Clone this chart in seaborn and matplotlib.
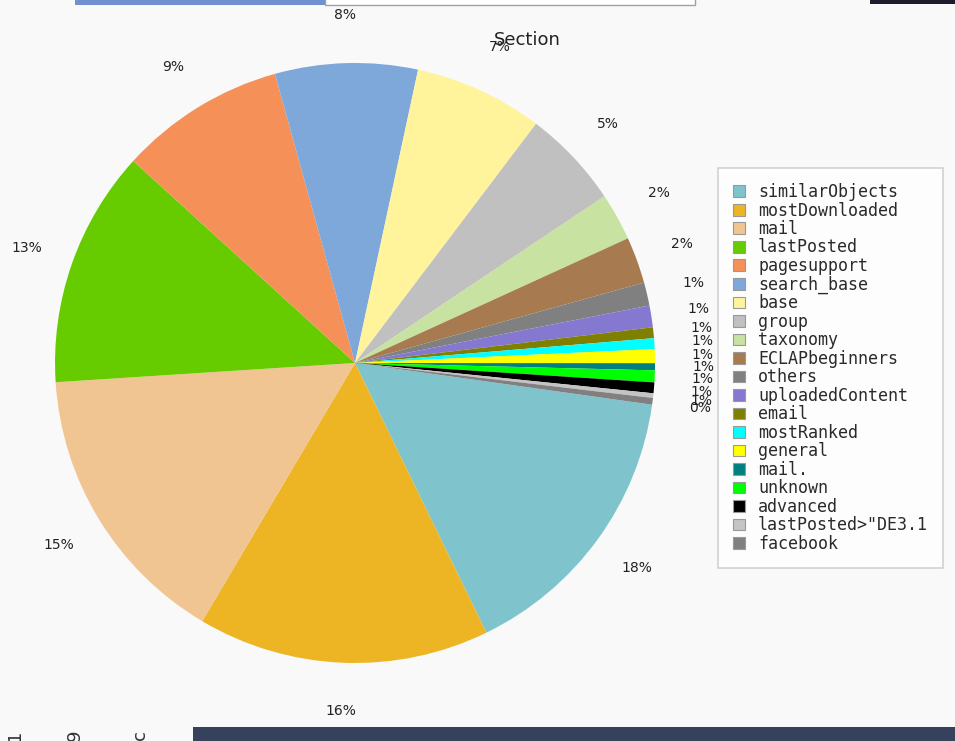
import matplotlib
matplotlib.use("Agg")
import matplotlib.pyplot as plt
import seaborn as sns
from matplotlib.patches import Patch, Rectangle

sections = ["similarObjects", "mostDownloaded", "mail", "lastPosted", "pagesupport",
            "search_base", "base", "group", "taxonomy", "ECLAPbeginners", "others",
            "uploadedContent", "email", "mostRanked", "general", "mail.", "unknown",
            "advanced", 'lastPosted>"DE3.1', "facebook"]
shares = [15.56, 15.72, 15.47, 12.78, 8.94, 7.67, 6.94, 5.31, 2.56, 2.50, 1.25,
          1.17, 0.58, 0.58, 0.75, 0.38, 0.64, 0.58, 0.25, 0.36]
pct_labels = ["18%", "16%", "15%", "13%", "9%", "8%", "7%", "5%", "2%", "2%",
              "1%", "1%", "1%", "1%", "1%", "1%", "1%", "1%", "1%", "0%"]
colors = ["#7fc4cc", "#edb424", "#f0c592", "#66cc00", "#f59158", "#7ea7da",
          "#fff39c", "#c0c0c0", "#c8e2a2", "#a87a50", "#808080", "#8478d0",
          "#808000", "#00ffff", "#ffff00", "#008080", "#00ff00", "#000000",
          "#c4c4c4", "#808080"]

sns.set_theme(style="white")
plt.rcParams['font.family'] = ['DejaVu Sans']
palette = sns.color_palette(colors)

fig = plt.figure(figsize=(9.55, 7.41), dpi=100)
fig.patch.set_facecolor("#f9f9f9")

ax = fig.add_axes([0.0576, 0.1053, 0.6283, 0.8097])
ax.set_facecolor("#f9f9f9")
wedges, texts = ax.pie(shares, colors=palette, labels=pct_labels, startangle=-8,
                       counterclock=False, labeldistance=1.16,
                       wedgeprops=dict(linewidth=0),
                       textprops=dict(fontsize=10, color="#222222"))
for t in texts:
    t.set_ha("center")
    t.set_va("center")
    t.set_clip_on(False)
ax.set_xlim(-1, 1)
ax.set_ylim(-1, 1)
ax.set_aspect("equal")
ax.axis("off")

fig.text(527 / 955, 1 - 40 / 741, "Section", fontsize=13, color="#222222",
         ha="center", va="center")

handles = [Patch(facecolor=c, edgecolor="#999999", linewidth=0.8) for c in palette]
leg = fig.legend(handles, sections, loc="upper left",
                 bbox_to_anchor=(718 / 955, 1 - 168 / 741),
                 bbox_transform=fig.transFigure,
                 prop=dict(family="DejaVu Sans Mono", size=12),
                 handlelength=0.7, handleheight=0.7, handletextpad=0.8,
                 labelspacing=0.03, borderpad=0.9, frameon=True, fancybox=False,
                 borderaxespad=0)
leg.get_frame().set_edgecolor("#c8c8c8")
leg.get_frame().set_facecolor("#ffffff")
leg.get_frame().set_linewidth(1.2)
for t in leg.get_texts():
    t.set_color("#2a2a2a")

# screenshot fringe
W, H = 955, 741
def rect(x0, y0, x1, y1, **kw):
    fig.patches.append(Rectangle((x0 / W, 1 - y1 / H), (x1 - x0) / W, (y1 - y0) / H,
                                 transform=fig.transFigure, figure=fig, **kw))
rect(75, 0, 325, 5, facecolor="#7090d0", edgecolor="none")
rect(325, -2, 695, 5, facecolor="#ffffff", edgecolor="#a0a0a0", linewidth=1)
rect(870, 0, 955, 4, facecolor="#1c1c2c", edgecolor="none")
rect(193, 727, 955, 741, facecolor="#36425c", edgecolor="none")
for x, s in [(15, "1"), (75, "9"), (140, "c")]:
    fig.text(x / W, 1 - 735 / H, s, fontsize=13, rotation=90, ha="center",
             va="center", color="#333333")

fig.savefig("out.png", dpi=100, facecolor=fig.get_facecolor())
